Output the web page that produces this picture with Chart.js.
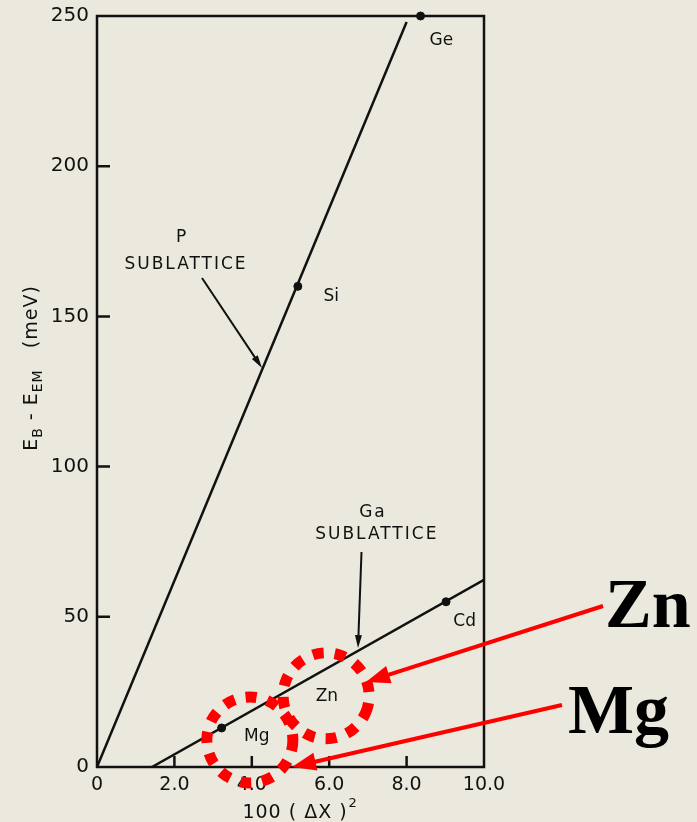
<!DOCTYPE html>
<html>
<head>
<meta charset="utf-8">
<script src="https://cdn.jsdelivr.net/npm/chart.js@4"></script>
<style>
  body { margin: 0; background: #ebe9dd; }
  canvas { display: block; }
</style>
</head>
<body>
<canvas id="chart-1" width="697" height="822"></canvas>
<script>
// lines through the two sublattices
const pLineX = [0, 8.0];
const pLineY = [0, 248];
const gaLineX = [1.42, 10.0];
const gaLineY = [0, 62.3];

// impurity points
const impNames = ["Ge", "Si", "Cd", "Mg"];
const impX = [8.36, 5.19, 9.02, 3.22];
const impY = [250, 160, 55, 13];

const xTicks = [0, 2, 4, 6, 8, 10];
const yTicks = [0, 50, 100, 150, 200, 250];

const BG = "#ebe9dd";
const INK = "#111111";
const RED = "#ff0000";
const FONT = '"DejaVu Sans", sans-serif';

let arrow = (ctx, x1, y1, x2, y2, headLen, headW, color, lw) => {
  const a = Math.atan2(y2 - y1, x2 - x1);
  ctx.save();
  ctx.strokeStyle = color;
  ctx.fillStyle = color;
  ctx.lineWidth = lw;
  ctx.beginPath();
  ctx.moveTo(x1, y1);
  ctx.lineTo(x2 - Math.cos(a) * headLen * 0.8, y2 - Math.sin(a) * headLen * 0.8);
  ctx.stroke();
  ctx.translate(x2, y2);
  ctx.rotate(a);
  ctx.beginPath();
  ctx.moveTo(0, 0);
  ctx.lineTo(-headLen, -headW / 2);
  ctx.lineTo(-headLen, headW / 2);
  ctx.closePath();
  ctx.fill();
  ctx.restore();
};

const decor = {
  id: "decor",
  beforeDraw(chart) {
    const ctx = chart.ctx;
    ctx.save();
    ctx.fillStyle = BG;
    ctx.fillRect(0, 0, chart.width, chart.height);
    ctx.restore();
  },
  beforeDatasetsDraw(chart) {
    const { ctx, chartArea: a, scales } = chart;
    ctx.save();
    ctx.strokeStyle = INK;
    ctx.lineWidth = 2.5;
    ctx.strokeRect(a.left, a.top, a.right - a.left, a.bottom - a.top);
    // inward tick marks
    ctx.beginPath();
    yTicks.slice(1, -1).forEach((v) => {
      const y = scales.y.getPixelForValue(v);
      ctx.moveTo(a.left, y);
      ctx.lineTo(a.left + 13, y);
    });
    xTicks.slice(1, -1).forEach((v) => {
      const x = scales.x.getPixelForValue(v);
      ctx.moveTo(x, a.bottom);
      ctx.lineTo(x, a.bottom - 11);
    });
    ctx.stroke();
    ctx.restore();
  },
  afterDatasetsDraw(chart) {
    const { ctx, scales } = chart;
    const px = (v) => scales.x.getPixelForValue(v);
    const py = (v) => scales.y.getPixelForValue(v);
    ctx.save();
    ctx.fillStyle = INK;
    ctx.textAlign = "center";
    ctx.textBaseline = "middle";
    ctx.font = "17px " + FONT;
    ctx.fillText("Ge", px(8.9), py(241.7));
    ctx.fillText("Si", px(6.05), py(156.7));
    ctx.fillText("Cd", px(9.5), py(48.3));
    ctx.fillText("Zn", px(5.94), py(23.3));
    ctx.fillText("Mg", px(4.13), py(10));

    ctx.letterSpacing = "2px";
    ctx.fillText("P", px(2.2), py(176.3));
    ctx.fillText("SUBLATTICE", px(2.3), py(167.3));
    ctx.fillText("Ga", px(7.13), py(84.7));
    ctx.fillText("SUBLATTICE", px(7.23), py(77.3));
    ctx.letterSpacing = "0px";
    ctx.restore();

    arrow(ctx, 202, 278, 262, 368, 13, 7, INK, 2);
    arrow(ctx, 361.5, 552, 358, 648, 13, 7, INK, 2);

    // axis titles
    ctx.save();
    ctx.fillStyle = INK;
    ctx.textBaseline = "alphabetic";
    ctx.translate(37, 368);
    ctx.rotate(-Math.PI / 2);
    ctx.letterSpacing = "1px";
    const big = "19px " + FONT, small = "14px " + FONT;
    const parts = [["E", big, 0], ["B", small, 5], [" - E", big, 0], ["EM", small, 5], ["   (meV)", big, 0]];
    let w = 0;
    parts.forEach((p) => { ctx.font = p[1]; w += ctx.measureText(p[0]).width; });
    let x = -w / 2;
    parts.forEach((p) => {
      ctx.font = p[1];
      ctx.fillText(p[0], x, p[2]);
      x += ctx.measureText(p[0]).width;
    });
    ctx.restore();

    ctx.save();
    ctx.fillStyle = INK;
    ctx.textBaseline = "alphabetic";
    ctx.font = "19px " + FONT;
    ctx.letterSpacing = "1px";
    const t1 = "100 ( ΔX )";
    const w1 = ctx.measureText(t1).width;
    const x0 = 300 - w1 / 2 - 5;
    ctx.fillText(t1, x0, 818);
    ctx.font = "13px " + FONT;
    ctx.fillText("2", x0 + w1 + 1, 807);
    ctx.restore();

    // red overlay
    ctx.save();
    ctx.strokeStyle = RED;
    ctx.lineWidth = 11;
    ctx.setLineDash([11, 11]);
    ctx.beginPath();
    ctx.arc(px(3.95), py(9), 43, 0, Math.PI * 2);
    ctx.stroke();
    ctx.beginPath();
    ctx.arc(px(5.92), py(23.7), 43, 0.3, Math.PI * 2 + 0.3);
    ctx.stroke();
    ctx.restore();

    arrow(ctx, 603, 606, 366, 682, 24, 18, RED, 4);
    arrow(ctx, 562, 705, 292, 767, 24, 18, RED, 4);

    ctx.save();
    ctx.fillStyle = "#000";
    ctx.font = 'bold 70px "Liberation Serif", serif';
    ctx.textBaseline = "alphabetic";
    ctx.fillText("Zn", 605, 627);
    ctx.fillText("Mg", 568, 733);
    ctx.restore();
  },
};

const ctx1 = document.getElementById("chart-1");
const myChart1 = new Chart(ctx1, {
  type: "scatter",
  data: {
    datasets: [
      {
        label: "P sublattice",
        data: pLineX.map((x, i) => ({ x: x, y: pLineY[i] })),
        showLine: true,
        borderColor: INK,
        borderWidth: 2.5,
        pointRadius: 0,
      },
      {
        label: "Ga sublattice",
        data: gaLineX.map((x, i) => ({ x: x, y: gaLineY[i] })),
        showLine: true,
        borderColor: INK,
        borderWidth: 2.5,
        pointRadius: 0,
      },
      {
        label: "Impurities",
        data: impX.map((x, i) => ({ x: x, y: impY[i], name: impNames[i] })),
        showLine: false,
        pointRadius: 4,
        backgroundColor: INK,
        borderColor: INK,
        clip: false,
      },
    ],
  },
  options: {
    responsive: false,
    animation: false,
    devicePixelRatio: 1,
    layout: { padding: { top: 16, right: 213, left: 0, bottom: 0 } },
    plugins: { legend: { display: false }, tooltip: { enabled: false } },
    scales: {
      x: {
        type: "linear",
        min: 0,
        max: 10,
        afterBuildTicks: (s) => { s.ticks = xTicks.map((v) => ({ value: v })); },
        afterFit: (s) => { s.height = 55; s.paddingLeft = 0; s.paddingRight = 0; },
        grid: { display: false, drawTicks: false },
        border: { display: false },
        ticks: {
          color: INK,
          padding: 7,
          font: { size: 19, family: FONT },
          callback: (v) => (v === 0 ? "0" : v.toFixed(1)),
        },
      },
      y: {
        type: "linear",
        min: 0,
        max: 250,
        afterBuildTicks: (s) => { s.ticks = yTicks.map((v) => ({ value: v })); },
        afterFit: (s) => { s.width = 97; s.paddingTop = 0; s.paddingBottom = 0; },
        grid: { display: false, drawTicks: false },
        border: { display: false },
        ticks: {
          color: INK,
          padding: 8,
          font: { size: 20, family: FONT },
        },
      },
    },
  },
  plugins: [decor],
});
</script>
</body>
</html>
